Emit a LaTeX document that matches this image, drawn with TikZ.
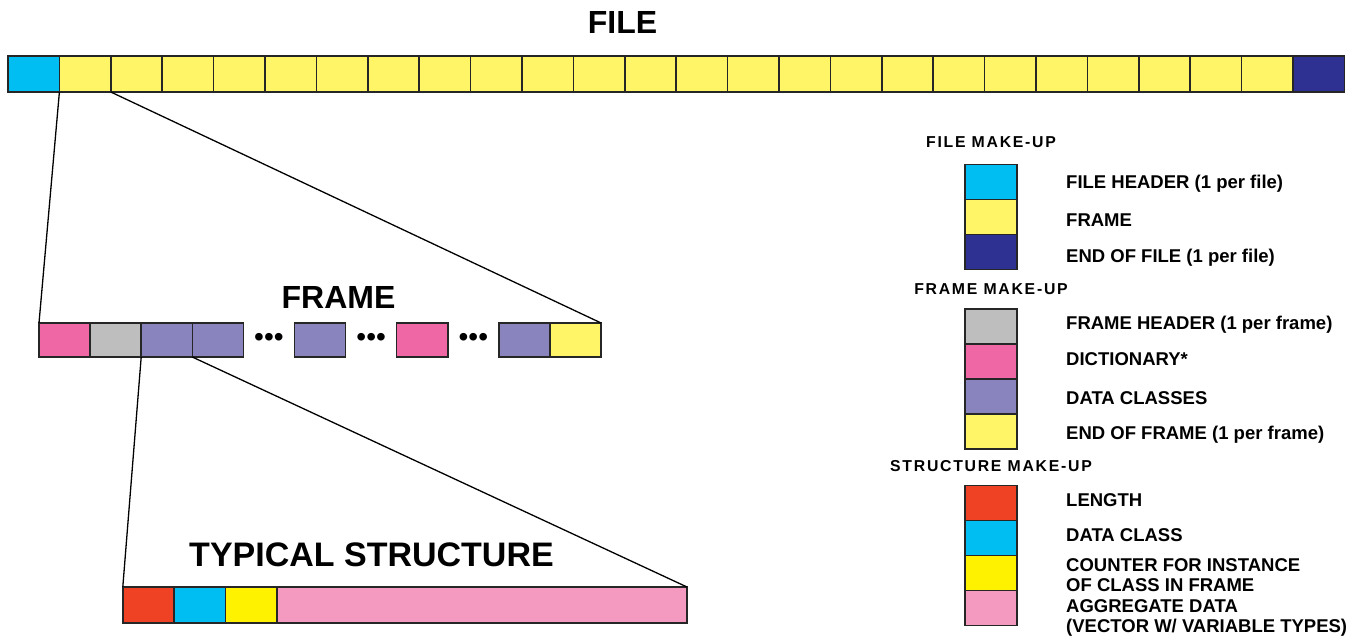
\documentclass[tikz,border=0pt]{standalone}
\usepackage{fontspec}
\setmainfont{Liberation Sans}
\newfontfamily\keyheadfont[LetterSpace=11]{Liberation Sans}
\usetikzlibrary{positioning}
\definecolor{fhead}{RGB}{0,190,242}
\definecolor{frmyel}{RGB}{255,245,102}
\definecolor{eofblue}{RGB}{46,49,146}
\definecolor{dictpink}{RGB}{240,103,166}
\definecolor{hdrgrey}{RGB}{190,190,190}
\definecolor{clspurple}{RGB}{138,132,190}
\definecolor{lenred}{RGB}{239,65,35}
\definecolor{cntyel}{RGB}{255,242,0}
\definecolor{aggpink}{RGB}{244,154,193}
\tikzset{
  cell/.style    ={draw=black!85, line width=1.5pt, minimum width=51.4pt,
                   minimum height=36pt, inner sep=0pt, outer sep=0pt},
  fcell/.style   ={cell, minimum width=51.1pt, minimum height=34pt},
  keybox/.style  ={cell, minimum width=52pt, minimum height=35pt},
  zoomln/.style  ={draw=black, line width=1.3pt},
  bigtitle/.style={font=\fontsize{32}{32}\selectfont\bfseries, anchor=base, inner sep=0pt},
  keyhead/.style ={font=\keyheadfont\fontsize{15.8}{16}\selectfont\bfseries, anchor=base, inner sep=0pt},
  keytext/.style ={font=\fontsize{18.5}{20}\selectfont\bfseries, anchor=west, inner sep=0pt,
                   align=left, right=49pt of #1},
  gapdots/.style ={font=\fontsize{28}{28}\selectfont, inner sep=0pt},
}
\begin{document}
\begin{tikzpicture}[x=1pt,y=-1pt]
\useasboundingbox (0,0) rectangle (1362,635);
% file: header, 24 frames, end of file
\node[cell,fill=fhead] (f1) at (33.7,74) {};
\foreach \i [remember=\i as \j (initially 1)] in {2,...,25}
  \node[cell,fill=frmyel,right=0pt of f\j] (f\i) {};
\node[cell,fill=eofblue,right=0pt of f25] (f26) {};
\node[bigtitle] (filettl) at (622.5,33.3) {FILE};

% one frame
\foreach \k/\col in {0/dictpink,1/hdrgrey,2/clspurple,3/clspurple,5/clspurple,
                     7/dictpink,9/clspurple,10/frmyel}
  \node[fcell,fill=\col] (fr\k) at ({39+51.1*(\k+0.5)},340) {};
\foreach \k in {4,6,8}
  \node[gapdots] (dt\k) at ({39+51.1*(\k+0.5)},340) {\textbullet\textbullet\textbullet};
\node[bigtitle] (frmttl) at (338.5,308.3) {FRAME};

% typical structure
\node[cell,fill=lenred] (s1) at (148.5,605) {};
\node[cell,fill=fhead,right=0pt of s1] (s2) {};
\node[cell,fill=cntyel,right=0pt of s2] (s3) {};
\node[cell,fill=aggpink,minimum width=410pt,right=0pt of s3] (s4) {};
\node[bigtitle,font=\fontsize{34}{34}\selectfont\bfseries] (strttl) at (371.5,566.7) {TYPICAL STRUCTURE};

% zoom lines
\draw[zoomln] (f2.south west) -- (fr0.north west);
\draw[zoomln] (f2.south east) -- (fr10.north east);
\draw[zoomln] (fr2.south west) -- (s1.north west);
\draw[zoomln] (fr3.south west) -- (s4.north east);

% key: file make-up
\node[keyhead] (kfttl) at (991,147.3) {FILE MAKE-UP};
\node[keybox,fill=fhead] (kf1) at (991,182) {};
\node[keybox,fill=frmyel,below=0pt of kf1] (kf2) {};
\node[keybox,fill=eofblue,below=0pt of kf2] (kf3) {};
\node[keytext=kf1,yshift=-2pt] {FILE HEADER (1 per file)};
\node[keytext=kf2,yshift=-3pt] {FRAME};
\node[keytext=kf3,yshift=-6pt] {END OF FILE (1 per file)};

% key: frame make-up
\node[keyhead] (krttl) at (991,294.5) {FRAME MAKE-UP};
\node[keybox,fill=hdrgrey] (kr1) at (991,326.5) {};
\node[keybox,fill=dictpink,below=0pt of kr1] (kr2) {};
\node[keybox,fill=clspurple,below=0pt of kr2] (kr3) {};
\node[keybox,fill=frmyel,below=0pt of kr3] (kr4) {};
\node[keytext=kr1,yshift=2pt] {FRAME HEADER (1 per frame)};
\node[keytext=kr2,yshift=2pt] {DICTIONARY*};
\node[keytext=kr3,yshift=-2pt] {DATA CLASSES};
\node[keytext=kr4,yshift=-3pt] {END OF FRAME (1 per frame)};

% key: structure make-up
\node[keyhead] (ksttl) at (991,471.5) {STRUCTURE MAKE-UP};
\node[keybox,fill=lenred] (ks1) at (991,503) {};
\node[keybox,fill=fhead,below=0pt of ks1] (ks2) {};
\node[keybox,fill=cntyel,below=0pt of ks2] (ks3) {};
\node[keybox,fill=aggpink,below=0pt of ks3] (ks4) {};
\node[keytext=ks1,yshift=3pt] {LENGTH};
\node[keytext=ks2,yshift=3pt] {DATA CLASS};
\node[keytext=ks3,yshift=-2pt] {COUNTER FOR INSTANCE\\OF CLASS IN FRAME};
\node[keytext=ks4,yshift=-10pt] {AGGREGATE DATA\\(VECTOR W/ VARIABLE TYPES)};
\end{tikzpicture}
\end{document}
